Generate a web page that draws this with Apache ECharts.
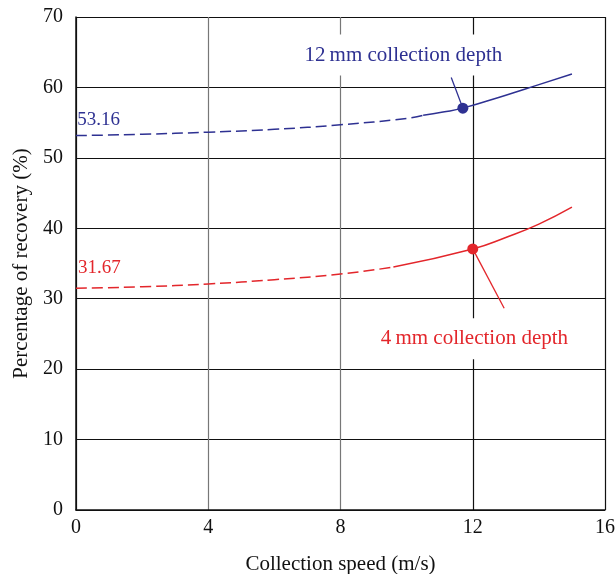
<!DOCTYPE html>
<html>
<head>
<meta charset="utf-8">
<script src="https://cdn.jsdelivr.net/npm/echarts@6/dist/echarts.min.js"></script>
<style>
	html, body {
		margin: 0;
		padding: 0;
		background: #fff;
	}

	#chart {
		width: 616px;
		height: 574px;
	}
</style>
</head>
<body>
<div id="chart"></div>
<script>
	// 刻度
	var xTicks = [0, 4, 8, 12, 16];
	var yTicks = [0, 10, 20, 30, 40, 50, 60, 70];

	// 12 mm 曲线 (虚线段 / 实线段)
	var blueDashed = [[0, 53.16], [2, 53.35], [4, 53.65], [6, 54.05], [8, 54.7], [10, 55.6], [10.5, 56.05]];
	var blueSolid = [[10.5, 56.05], [11.1, 56.5], [11.7, 57.06], [13, 58.9], [14, 60.4], [15, 61.9]];
	var blueMark = [[11.7, 57.06]];
	var bluePointer = [[11.35, 61.4], [11.7, 57.06]];

	// 4 mm 曲线
	var redDashed = [[0, 31.5], [2, 31.7], [4, 32.1], [6, 32.7], [8, 33.5], [9.6, 34.5]];
	var redSolid = [[9.6, 34.5], [12, 37.07], [13, 38.7], [14, 40.6], [15, 43.0]];
	var redMark = [[12, 37.07]];
	var redPointer = [[12, 37.07], [12.95, 28.65]];

	// 文字注释
	var blueNote = [[9.9, 64.6, '12\u2009mm collection depth']];
	var redNote = [[12.05, 24.3, '4\u2009mm collection depth']];
	var blueStart = [[0.04, 55.4, '53.16']];
	var redStart = [[0.06, 34.4, '31.67']];

	var blue = '#2e3192';
	var red = '#e3262b';
	var font = '"Liberation Serif", "DejaVu Serif", serif';

	function textSeries(list, color, boxed) {
		return {
			type: 'scatter',
			symbolSize: 0,
			z: 5,
			silent: true,
			itemStyle: { opacity: 1 },
			data: list.map(function (d) { return { value: [d[0], d[1]], name: d[2] }; }),
			label: boxed ? {
				show: true,
				position: 'inside',
				formatter: function (p) { return p.name; },
				color: color,
				fontFamily: font,
				fontSize: 21,
				backgroundColor: '#fff',
				padding: [10, 6]
			} : {
				show: true,
				position: 'right',
				distance: 0,
				formatter: function (p) { return p.name; },
				color: color,
				fontFamily: font,
				fontSize: 19
			}
		};
	}

	function curve(data, color, dashed) {
		return {
			type: 'line',
			data: data,
			smooth: 0.5,
			showSymbol: false,
			silent: true,
			lineStyle: { color: color, width: 1.5, type: dashed ? [11, 5] : 'solid' }
		};
	}

	var chart = echarts.init(document.getElementById('chart'), null, { renderer: 'canvas' });
	var option = {
		backgroundColor: '#fff',
		animation: false,
		grid: { left: 76, right: 11, top: 17, bottom: 64, containLabel: false, outerBoundsMode: 'none' },
		xAxis: {
			type: 'value',
			min: xTicks[0],
			max: xTicks[xTicks.length - 1],
			interval: 4,
			name: 'Collection speed (m/s)',
			nameLocation: 'middle',
			nameGap: 44,
			nameTextStyle: { color: '#111', fontFamily: font, fontSize: 21 },
			axisLine: { show: true, lineStyle: { color: '#111', width: 1.5 } },
			axisTick: { show: false },
			axisLabel: { color: '#111', fontFamily: font, fontSize: 20, margin: 8 },
			splitLine: { show: true, lineStyle: { color: ['#111', '#777', '#777', '#111', '#111'], width: 1.2 } }
		},
		yAxis: {
			type: 'value',
			min: yTicks[0],
			max: yTicks[yTicks.length - 1],
			interval: 10,
			name: 'Percentage of recovery (%)',
			nameLocation: 'middle',
			nameGap: 40,
			nameTextStyle: { color: '#111', fontFamily: font, fontSize: 21 },
			axisLine: { show: true, lineStyle: { color: '#111', width: 1.5 } },
			axisTick: { show: false },
			axisLabel: { color: '#111', fontFamily: font, fontSize: 20, margin: 13 },
			splitLine: { show: true, lineStyle: { color: '#111', width: 1.2 } }
		},
		series: [
			curve(blueDashed, blue, true),
			curve(blueSolid, blue, false),
			{ type: 'line', data: bluePointer, showSymbol: false, silent: true, lineStyle: { color: blue, width: 1.3 } },
			{ type: 'scatter', data: blueMark, symbolSize: 11, itemStyle: { color: blue, opacity: 1 }, z: 4, silent: true },
			curve(redDashed, red, true),
			curve(redSolid, red, false),
			{ type: 'line', data: redPointer, showSymbol: false, silent: true, lineStyle: { color: red, width: 1.3 } },
			{ type: 'scatter', data: redMark, symbolSize: 11, itemStyle: { color: red, opacity: 1 }, z: 4, silent: true },
			textSeries(blueNote, blue, true),
			textSeries(redNote, red, true),
			textSeries(blueStart, blue, false),
			textSeries(redStart, red, false)
		]
	};
	chart.setOption(option);
</script>
</body>
</html>
